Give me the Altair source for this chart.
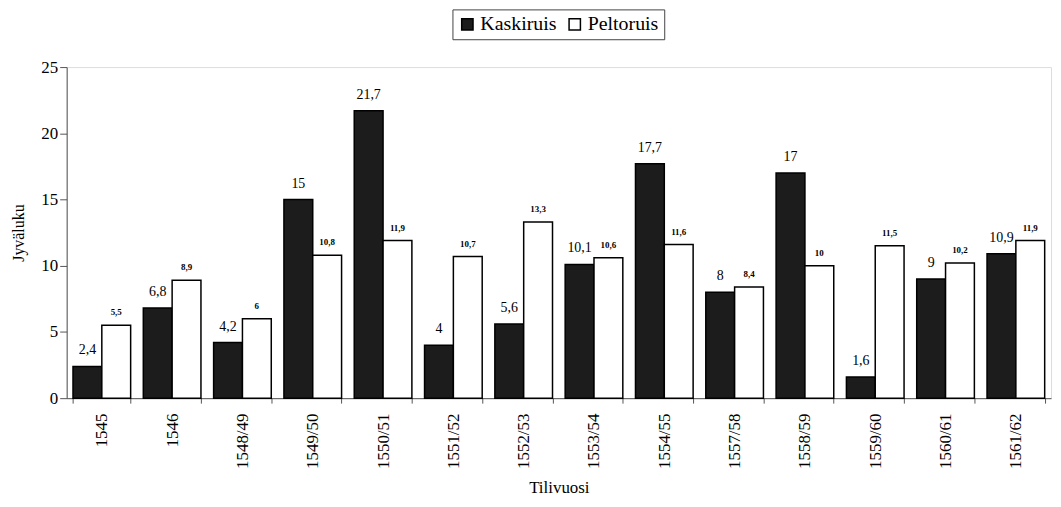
import altair as alt
import pandas as pd

years = ["1545", "1546", "1548/49", "1549/50", "1550/51", "1551/52", "1552/53",
         "1553/54", "1554/55", "1557/58", "1558/59", "1559/60", "1560/61", "1561/62"]
kaskiruis = [2.4, 6.8, 4.2, 15, 21.7, 4, 5.6, 10.1, 17.7, 8, 17, 1.6, 9, 10.9]
peltoruis = [5.5, 8.9, 6, 10.8, 11.9, 10.7, 13.3, 10.6, 11.6, 8.4, 10, 11.5, 10.2, 11.9]
series = ["Kaskiruis", "Peltoruis"]

rows = []
for y, k, p in zip(years, kaskiruis, peltoruis):
    for s, v in zip(series, [k, p]):
        rows.append({"Tilivuosi": y, "Sarja": s, "Arvo": v,
                     "Nimi": f"{v:g}".replace(".", ",")})
df = pd.DataFrame(rows)

FONT = "Times New Roman, Liberation Serif, DejaVu Serif, serif"

x = alt.X("Tilivuosi:N", sort=years, title="Tilivuosi",
          scale=alt.Scale(paddingInner=0.18, paddingOuter=0.09),
          axis=alt.Axis(labelAngle=-90, labelFontSize=17, labelFont=FONT,
                        titleFont=FONT, titleFontSize=17, titleFontWeight="normal",
                        titleColor="black", labelColor="black",
                        tickBand="extent", tickSize=5, labelPadding=10,
                        domainColor="#555", tickColor="#555", titlePadding=11))
xo = alt.XOffset("Sarja:N", sort=series, scale=alt.Scale(paddingInner=0, paddingOuter=0))
y = alt.Y("Arvo:Q", title="Jyväluku",
          scale=alt.Scale(domain=[0, 25]),
          axis=alt.Axis(values=[0, 5, 10, 15, 20, 25], grid=False, labelFontSize=17,
                        labelFont=FONT, titleFont=FONT, titleFontSize=16,
                        titleFontWeight="normal", titleColor="black", labelColor="black",
                        tickSize=7, domainColor="#555", tickColor="#555", titlePadding=14))

bars = alt.Chart(df).mark_bar(stroke="black", strokeWidth=1.5).encode(
    x=x, xOffset=xo, y=y,
    fill=alt.Fill("Sarja:N", sort=series, title=None,
                  scale=alt.Scale(domain=series, range=["#1c1c1c", "#ffffff"]),
                  legend=alt.Legend(orient="none", legendX=388, legendY=-58,
                                    direction="horizontal", symbolType="square",
                                    symbolSize=130, symbolStrokeColor="black",
                                    symbolStrokeWidth=1.5, labelFont=FONT,
                                    labelFontSize=20, labelColor="black",
                                    strokeColor="#444", padding=5,
                                    columnPadding=8, labelOffset=3)),
)

txt_dark = alt.Chart(df).transform_filter(alt.datum.Sarja == "Kaskiruis").mark_text(
    font=FONT, fontSize=14, dy=-9, color="black", baseline="bottom").encode(
    x=x, xOffset=xo, y=y, text="Nimi:N")
txt_light = alt.Chart(df).transform_filter(alt.datum.Sarja == "Peltoruis").mark_text(
    font=FONT, fontSize=9, dy=-8, color="black", baseline="bottom", fontWeight="bold").encode(
    x=x, xOffset=xo, y=y, text="Nimi:N")

chart = alt.layer(bars, txt_dark, txt_light).properties(
    width=990, height=333,
    autosize=alt.AutoSizeParams(type="none"),
    padding={"left": 59, "top": 58, "right": 2, "bottom": 100},
).configure_view(stroke=None).configure(background="white", font=FONT).configure_legend(
    labelFont=FONT, labelFontSize=20, labelColor="black"
)

chart.save("out.html", embed_options={"renderer": "svg", "actions": False})
